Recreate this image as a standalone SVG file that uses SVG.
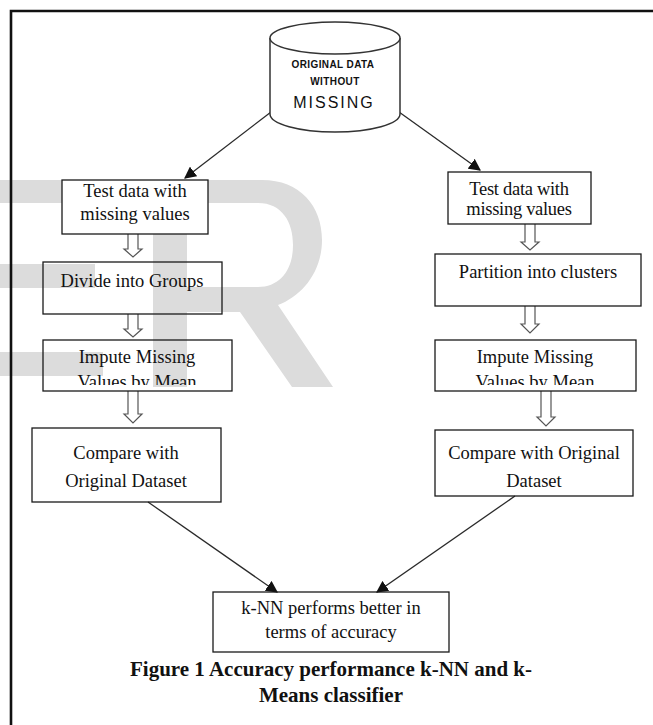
<svg xmlns="http://www.w3.org/2000/svg" width="653" height="725" viewBox="0 0 653 725">
  <style>
    .box{fill:none;stroke:#1a1a1a;stroke-width:1.3}
    .solid{fill:#fff}
    .t{font-family:"Liberation Serif","Times New Roman",serif;font-size:18.5px;fill:#111;text-anchor:middle}
    .cyl{fill:#fff;stroke:#333;stroke-width:1.5}
    .ct{font-family:"Liberation Sans",Arial,sans-serif;fill:#111;text-anchor:middle}
    .conn{stroke:#2a2a2a;stroke-width:1.3;fill:none}
    .hollow{fill:#fff;stroke:#555;stroke-width:1.2;stroke-linejoin:miter}
    .cap{font-family:"Liberation Serif","Times New Roman",serif;font-weight:bold;font-size:21px;fill:#111;text-anchor:middle}
    .wm{fill:#dcdcdc}
  </style>
  <defs>
    <marker id="ah" viewBox="0 0 10 10" refX="9" refY="5" markerWidth="12" markerHeight="12" markerUnits="userSpaceOnUse" orient="auto">
      <path d="M0,0 L10,5 L0,10 z" fill="#111"/>
    </marker>
    <clipPath id="clipL3"><rect x="43" y="340" width="189" height="45"/></clipPath>
    <clipPath id="clipR3"><rect x="435" y="340" width="201" height="45"/></clipPath>
  </defs>

  <!-- background watermark letters -->
  <g id="watermark">
    <rect class="wm" x="0" y="180" width="103" height="23"/>
    <rect class="wm" x="0" y="264" width="95" height="24"/>
    <rect class="wm" x="0" y="352" width="103" height="24"/>
    <path class="wm" fill-rule="evenodd" d="M153,180 H262 C300,180 322,206 322,240 C322,272 302,296 278,305 L333,387 H292 L240,312 H187 V387 H153 Z M187,203 H258 C282,203 293,222 293,245 C293,270 280,287 258,287 H187 Z"/>
  </g>

  <!-- page frame -->
  <path d="M11,725 V11 H653" fill="none" stroke="#111" stroke-width="2.6"/>

  <!-- connectors -->
  <g id="connectors">
    <line class="conn" x1="271" y1="112" x2="185" y2="178" marker-end="url(#ah)"/>
    <line class="conn" x1="399" y1="112" x2="480" y2="170" marker-end="url(#ah)"/>
    <line class="conn" x1="148" y1="502" x2="277" y2="592" marker-end="url(#ah)"/>
    <line class="conn" x1="515" y1="496" x2="377" y2="592" marker-end="url(#ah)"/>
    <!-- hollow block arrows between steps -->
    <path class="hollow" d="M128,234 V249 H124 L133,257 L142,249 H138 V234"/>
    <path class="hollow" d="M128,314 V329 H124 L133,337 L142,329 H138 V314"/>
    <path class="hollow" d="M128,391 V414 H124 L133,423 L142,414 H138 V391"/>
    <path class="hollow" d="M525,224 V242 H521 L530,250 L539,242 H535 V224"/>
    <path class="hollow" d="M525,306 V324 H521 L530,333 L539,324 H535 V306"/>
    <path class="hollow" d="M541,391 V417 H537 L546,426 L555,417 H551 V391"/>
  </g>

  <!-- source data store -->
  <g id="original-data">
    <path class="cyl" d="M270,38 V114 A65,18 0 0 0 400,114 V38"/>
    <ellipse class="cyl" cx="335" cy="38" rx="65" ry="16"/>
    <text class="ct" x="333" y="68" font-size="10" font-weight="bold" letter-spacing="0.4">ORIGINAL DATA</text>
    <text class="ct" x="335" y="85" font-size="10" font-weight="bold" letter-spacing="0.4">WITHOUT</text>
    <text class="ct" x="334" y="108" font-size="16" letter-spacing="2">MISSING</text>
  </g>

  <!-- left branch -->
  <g id="left-test-data">
    <rect class="box solid" x="62" y="180" width="146" height="54"/>
    <text class="t" x="135" y="197">Test data with</text>
    <text class="t" x="135" y="220">missing values</text>
  </g>
  <g id="left-divide">
    <rect class="box" x="43" y="262" width="179" height="52"/>
    <text class="t" x="132" y="287">Divide into Groups</text>
  </g>
  <g id="left-impute">
    <rect class="box" x="43" y="340" width="189" height="51"/>
    <g clip-path="url(#clipL3)">
      <text class="t" x="137" y="363">Impute Missing</text>
      <text class="t" x="137" y="388">Values by Mean</text>
    </g>
  </g>
  <g id="left-compare">
    <rect class="box" x="32" y="428" width="189" height="74"/>
    <text class="t" x="126" y="459">Compare with</text>
    <text class="t" x="126" y="487">Original Dataset</text>
  </g>

  <!-- right branch -->
  <g id="right-test-data">
    <rect class="box" x="448" y="172" width="143" height="52"/>
    <text class="t" x="519" y="195" font-size="16.5" letter-spacing="-0.3">Test data with</text>
    <text class="t" x="519" y="215" font-size="16.5" letter-spacing="-0.3">missing values</text>
  </g>
  <g id="right-partition">
    <rect class="box" x="435" y="254" width="206" height="52"/>
    <text class="t" x="538" y="278">Partition into clusters</text>
  </g>
  <g id="right-impute">
    <rect class="box" x="435" y="340" width="201" height="51"/>
    <g clip-path="url(#clipR3)">
      <text class="t" x="535" y="363">Impute Missing</text>
      <text class="t" x="535" y="388">Values by Mean</text>
    </g>
  </g>
  <g id="right-compare">
    <rect class="box" x="435" y="430" width="198" height="66"/>
    <text class="t" x="534" y="459">Compare with Original</text>
    <text class="t" x="534" y="487">Dataset</text>
  </g>

  <!-- result -->
  <g id="result">
    <rect class="box" x="213" y="592" width="236" height="60"/>
    <text class="t" x="331" y="614">k-NN performs better in</text>
    <text class="t" x="331" y="638">terms of accuracy</text>
  </g>

  <g id="caption">
    <text class="cap" x="331" y="676">Figure 1 Accuracy performance k-NN and k-</text>
    <text class="cap" x="331" y="702">Means classifier</text>
  </g>
</svg>
